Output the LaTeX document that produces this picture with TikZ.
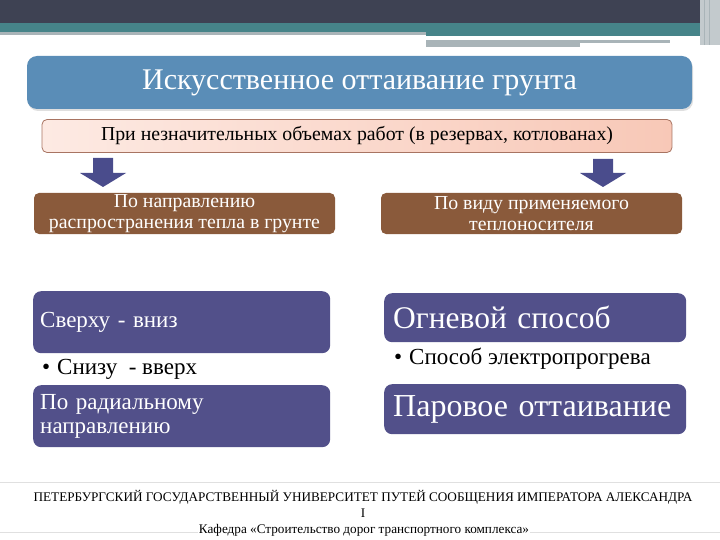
\documentclass[tikz,border=0pt]{standalone}
\usepackage{fontspec}
\setmainfont{Liberation Serif}
\newfontfamily\lserif{Liberation Serif}
\usetikzlibrary{shadows}
\definecolor{topdark}{HTML}{3E4253}
\definecolor{teal}{HTML}{468489}
\definecolor{lgray}{HTML}{A9B4B8}
\definecolor{titleblue}{HTML}{5A8DB7}
\definecolor{pinkl}{HTML}{FDEAE3}
\definecolor{pinkr}{HTML}{F8C8B7}
\definecolor{pinkedge}{HTML}{A87462}
\definecolor{brownbox}{HTML}{8A5A3B}
\definecolor{arrowc}{HTML}{4A4C8C}
\definecolor{purplebox}{HTML}{52508A}
\tikzset{
  x=1pt,y=-1pt,
  every node/.append style={font=\lserif},
  titlebox/.style={fill=titleblue, rounded corners=10pt, minimum width=665pt, minimum height=53pt, text=white, font=\lserif\fontsize{30}{34}\selectfont, inner sep=0pt},
  pinkbox/.style={left color=pinkl, right color=pinkr, draw=pinkedge, line width=0.8pt, rounded corners=5pt, minimum width=630pt, minimum height=33pt, font=\lserif\fontsize{19.8}{22}\selectfont, inner sep=0pt},
  brownbx/.style={fill=brownbox, rounded corners=5pt, minimum width=301pt, minimum height=41pt, text=white, align=center, font=\lserif\fontsize{19.8}{21}\selectfont, inner sep=0pt},
  purplebx/.style={fill=purplebox, rounded corners=8pt, text=white, align=left, inner xsep=7pt, inner ysep=0pt, anchor=north west},
  bulletitem/.style={anchor=west, inner sep=0pt, font=\lserif\fontsize{23}{26}\selectfont},
  blockarrow/.style={fill=arrowc},
  footertext/.style={font=\lserif\fontsize{13.2}{15}\selectfont, inner sep=1pt, fill=white, align=center}
}
\begin{document}
\begin{tikzpicture}
\useasboundingbox (0,0) rectangle (720,540);
% header bands
\fill[topdark] (0,0) rectangle (720,23);
\fill[teal] (0,23) rectangle (720,32);
\fill[teal] (426,32) rectangle (700,36);
\fill[lgray] (0,32) rectangle (426,35);
\fill[lgray] (426,40) rectangle (580,47);
\fill[lgray] (580,40) rectangle (670,43);
\fill[lgray!70] (700,0) rectangle (720,45);
\draw[lgray, line width=1pt] (704,0) -- (704,45) (709,0) -- (709,45);
% title
\node[titlebox, drop shadow={opacity=0.25, shadow xshift=1pt, shadow yshift=-2pt}] (title) at (359.5,82.5) {Искусственное оттаивание грунта};
% subtitle
\node[pinkbox] (sub) at (357,136) {При незначительных объемах работ (в резервах, котлованах)};
% block arrows
\fill[blockarrow] (93,158) -- (113,158) -- (113,173) -- (126,173) -- (103,187) -- (80,173) -- (93,173) -- cycle;
\fill[blockarrow] (593,159) -- (613,159) -- (613,173) -- (626,173) -- (603,187) -- (580,173) -- (593,173) -- cycle;
% brown boxes
\node[brownbx] (bl) at (184.5,213.5) {По направлению\\распространения тепла в грунте};
\node[brownbx] (br) at (531.5,213.5) {По виду применяемого\\теплоносителя};
% left column
\node[purplebx, minimum width=297pt, minimum height=62pt, text width=283pt, font=\lserif\fontsize{23}{24}\selectfont] (l1) at (33,291) {Сверху - вниз};
\node[bulletitem] (l2) at (42,369) {•\hspace{7pt}Снизу\ \ - вверх};
\node[purplebx, minimum width=297pt, minimum height=62pt, text width=283pt, font=\lserif\fontsize{23}{24}\selectfont] (l3) at (33,385) {По радиальному\\направлению};
% right column
\node[purplebx, minimum width=298pt, minimum height=49pt, text width=284pt, inner xsep=9pt, font=\lserif\fontsize{31.5}{34}\selectfont] (r1) at (384,293) {Огневой способ};
\node[bulletitem] (r2) at (394,359) {•\hspace{7pt}Способ электропрогрева};
\node[purplebx, minimum width=298pt, minimum height=50pt, text width=284pt, inner xsep=9pt, font=\lserif\fontsize{32}{34}\selectfont] (r3) at (384,384) {Паровое оттаивание};
% footer
\draw[black!12, line width=1pt] (0,482) -- (720,482);
\draw[black!12, line width=1pt] (0,532) -- (720,532);
\node[footertext] (f1) at (363,497) {ПЕТЕРБУРГСКИЙ ГОСУДАРСТВЕННЫЙ УНИВЕРСИТЕТ ПУТЕЙ СООБЩЕНИЯ ИМПЕРАТОРА АЛЕКСАНДРА};
\node[footertext] (f2) at (363,513) {I};
\node[footertext] (f3) at (364,530) {Кафедра «Строительство дорог транспортного комплекса»};
\end{tikzpicture}
\end{document}
